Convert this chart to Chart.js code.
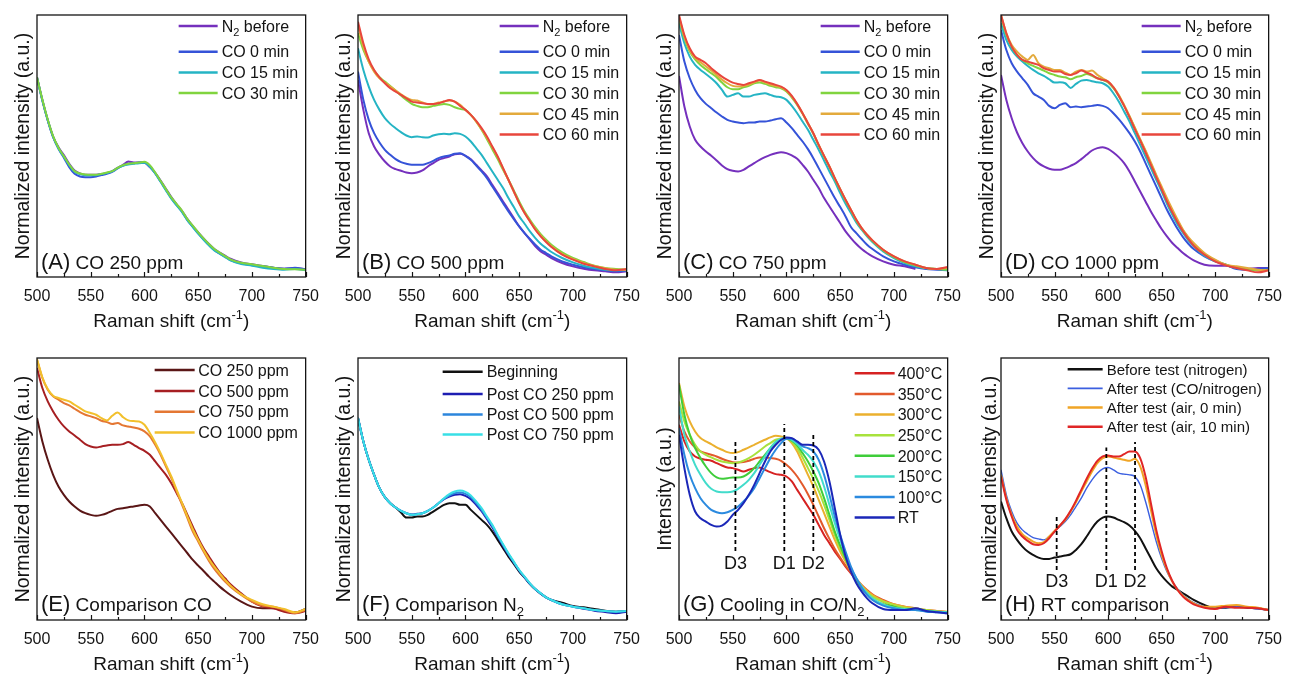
<!DOCTYPE html>
<html>
<head>
<meta charset="utf-8">
<script src="https://cdn.jsdelivr.net/npm/chart.js@4.4.1/dist/chart.umd.min.js"></script>
<style>
  html, body { margin: 0; padding: 0; background: #fff; }
  #wrap { position: relative; width: 1290px; height: 675px; overflow: hidden; background: #fff; }
  #wrap canvas { position: absolute; }
</style>
</head>
<body>
<div id="wrap"></div>
<script>
// Raman shift grid (cm-1) shared by all spectra
const ramanShift = [500, 505, 510, 515, 520, 525, 530, 535, 540, 545,
  550, 555, 560, 565, 570, 575, 580, 585, 590, 595,
  600, 605, 610, 615, 620, 625, 630, 635, 640, 645,
  650, 655, 660, 665, 670, 675, 680,
  690, 700, 710, 720, 730, 740, 750]
const xTickValues = [500, 550, 600, 650, 700, 750]

// intensities are in arbitrary units (no y ticks in the figure)
// (A) CO 250 ppm
const aN2Before = [600, 532, 472, 422, 390, 366, 340, 320, 311, 307,
  307, 307, 309, 312, 318, 328, 337, 347, 344, 344,
  343, 330, 312, 290, 265, 240, 218, 198, 174, 153,
  134, 116, 99, 84, 73, 64, 55,
  44, 38, 33, 28, 25, 26, 24]
const aCO0 = [600, 530, 470, 420, 385, 358, 330, 310, 302, 300,
  300, 302, 306, 310, 316, 326, 335, 340, 342, 344,
  345, 333, 312, 287, 262, 237, 216, 196, 171, 151,
  131, 113, 96, 81, 70, 61, 51,
  41, 36, 32, 28, 25, 28, 23]
const aCO15 = [598, 530, 471, 421, 386, 361, 336, 316, 309, 306,
  306, 306, 309, 312, 317, 327, 334, 338, 340, 342,
  343, 331, 311, 286, 260, 235, 215, 195, 170, 150,
  130, 112, 95, 80, 70, 60, 50,
  39, 34, 28, 24, 22, 24, 20]
const aCO30 = [600, 533, 473, 423, 388, 363, 338, 318, 311, 308,
  307, 307, 310, 314, 318, 328, 336, 340, 342, 344,
  346, 336, 314, 289, 264, 239, 219, 199, 174, 154,
  134, 116, 99, 84, 73, 63, 53,
  43, 38, 33, 28, 24, 23, 22]

// (B) CO 500 ppm
const bN2Before = [592, 502, 432, 392, 367, 347, 332, 324, 319, 314,
  312, 314, 320, 332, 342, 352, 357, 362, 369, 370,
  364, 354, 337, 320, 302, 277, 252, 227, 202, 177,
  152, 132, 112, 92, 77, 67, 57,
  42, 32, 25, 20, 17, 14, 17]
const bCO0 = [617, 532, 472, 432, 404, 382, 367, 354, 345, 340,
  337, 337, 337, 342, 349, 357, 362, 365, 370, 372,
  364, 352, 335, 317, 297, 272, 247, 222, 197, 174,
  152, 132, 114, 97, 82, 72, 62,
  47, 37, 29, 24, 20, 17, 20]
const bCO15 = [687, 622, 572, 532, 502, 477, 460, 447, 435, 425,
  420, 422, 420, 419, 425, 429, 430, 429, 432, 430,
  422, 407, 387, 367, 342, 317, 292, 267, 237, 210,
  182, 160, 137, 117, 100, 87, 75,
  57, 44, 34, 27, 22, 20, 20]
const bCO30 = [732, 682, 647, 620, 600, 587, 574, 560, 545, 532,
  520, 514, 510, 510, 514, 517, 520, 517, 510, 505,
  502, 487, 467, 442, 414, 384, 354, 322, 292, 260,
  227, 197, 172, 149, 129, 112, 97,
  74, 57, 45, 34, 27, 24, 22]
const bCO45 = [757, 692, 647, 617, 597, 584, 572, 560, 549, 539,
  532, 530, 524, 519, 520, 524, 527, 530, 527, 517,
  502, 487, 467, 444, 418, 390, 360, 326, 291, 256,
  222, 193, 168, 144, 124, 107, 92,
  69, 54, 42, 33, 26, 22, 22]
const bCO60 = [767, 702, 654, 622, 600, 582, 567, 557, 547, 537,
  527, 524, 522, 520, 520, 522, 527, 532, 527, 514,
  502, 487, 469, 447, 422, 392, 362, 327, 292, 257,
  222, 192, 167, 142, 122, 105, 90,
  67, 52, 40, 32, 24, 20, 24]

// (C) CO 750 ppm
const cN2Before = [604, 512, 452, 412, 392, 377, 364, 350, 335, 324,
  319, 317, 322, 332, 342, 352, 360, 367, 372, 375,
  372, 365, 355, 337, 317, 292, 267, 237, 212, 187,
  162, 137, 117, 99, 84, 72, 62,
  47, 37, 32, 24, null, null, null]
const cCO0 = [727, 647, 597, 562, 537, 520, 507, 494, 482, 472,
  467, 464, 462, 464, 464, 467, 467, 470, 474, 477,
  464, 447, 427, 407, 384, 357, 327, 297, 267, 237,
  210, 182, 150, 132, 114, 97, 84,
  62, 47, 37, 29, 24, 22, 20]
const cCO15 = [762, 702, 662, 637, 622, 610, 597, 582, 562, 542,
  547, 552, 542, 542, 547, 550, 552, 547, 542, 540,
  532, 514, 492, 467, 442, 412, 382, 350, 317, 287,
  252, 220, 192, 164, 142, 122, 105,
  77, 57, 42, 32, 26, 24, 20]
const cCO30 = [777, 717, 677, 654, 637, 624, 612, 600, 584, 570,
  564, 564, 570, 574, 582, 584, 580, 574, 570, 567,
  557, 539, 517, 490, 460, 430, 395, 362, 330, 295,
  262, 230, 200, 170, 145, 125, 108,
  80, 60, 45, 35, 27, 24, 22]
const cCO45 = [782, 722, 682, 658, 645, 633, 620, 607, 593, 582,
  574, 572, 574, 578, 585, 590, 585, 578, 574, 570,
  560, 542, 519, 492, 462, 432, 397, 364, 332, 297,
  264, 232, 202, 172, 147, 127, 110,
  82, 62, 47, 37, 27, 24, 28]
const cCO60 = [787, 727, 687, 662, 652, 642, 627, 614, 602, 592,
  584, 580, 577, 582, 587, 592, 587, 582, 577, 572,
  562, 544, 520, 492, 462, 432, 397, 364, 332, 297,
  264, 232, 202, 172, 147, 127, 110,
  82, 62, 47, 37, 27, 24, 30]

// (D) CO 1000 ppm
const dN2Before = [607, 532, 477, 434, 402, 377, 357, 342, 332, 325,
  322, 322, 327, 334, 342, 354, 367, 380, 387, 390,
  385, 374, 360, 342, 317, 287, 257, 227, 197, 170,
  144, 122, 102, 87, 72, 60, 50,
  37, 34, 34, 27, 24, 27, 27]
const dCO0 = [742, 682, 642, 617, 597, 577, 552, 542, 532, 514,
  507, 517, 522, 510, 512, 510, 512, 514, 517, 514,
  507, 492, 474, 454, 432, 407, 377, 342, 307, 272,
  237, 202, 172, 144, 120, 100, 84,
  62, 47, 37, 24, 22, 24, 27]
const dCO15 = [762, 712, 682, 662, 647, 634, 622, 612, 604, 594,
  584, 585, 582, 568, 580, 590, 592, 588, 585, 582,
  572, 552, 527, 497, 467, 432, 397, 362, 327, 292,
  257, 220, 187, 157, 132, 110, 92,
  64, 47, 37, 27, 24, 20, 22]
const dCO30 = [782, 727, 692, 667, 652, 642, 634, 627, 620, 612,
  607, 602, 600, 594, 600, 604, 610, 604, 597, 592,
  584, 567, 544, 514, 482, 447, 412, 377, 340, 304,
  267, 232, 197, 167, 140, 117, 97,
  70, 50, 37, 29, 24, 20, 20]
const dCO45 = [787, 732, 697, 677, 662, 652, 667, 642, 632, 627,
  622, 622, 614, 607, 617, 622, 617, 620, 607, 597,
  587, 570, 547, 517, 484, 449, 414, 380, 344, 307,
  272, 237, 204, 172, 142, 120, 102,
  72, 52, 37, 32, 27, 22, 20]
const dCO60 = [787, 732, 692, 667, 652, 647, 642, 637, 627, 622,
  617, 617, 610, 607, 612, 620, 614, 607, 597, 592,
  587, 570, 544, 514, 480, 444, 410, 374, 337, 300,
  264, 227, 194, 164, 137, 114, 94,
  67, 47, 35, 27, 20, 14, 20]

// (E) Comparison CO
const eCO250 = [605, 535, 480, 435, 400, 375, 355, 340, 328, 320,
  315, 312, 315, 320, 327, 333, 335, 338, 340, 343,
  345, 340, 320, 300, 280, 260, 240, 220, 200, 180,
  163, 147, 130, 115, 100, 87, 75,
  55, 40, 35, 35, 27, 23, 33]
const eCO500 = [755, 695, 655, 625, 600, 580, 565, 553, 540, 527,
  520, 517, 520, 523, 525, 525, 527, 533, 525, 515,
  507, 495, 475, 455, 435, 410, 380, 350, 315, 280,
  245, 215, 190, 165, 143, 125, 107,
  80, 55, 40, 35, 25, 20, 27]
const eCO750 = [780, 725, 690, 670, 660, 650, 643, 633, 623, 615,
  610, 605, 597, 593, 587, 590, 583, 580, 577, 573,
  565, 550, 525, 495, 460, 425, 385, 345, 305, 265,
  235, 205, 177, 153, 133, 115, 100,
  75, 55, 43, 40, 30, 20, 30]
const eCO1000 = [782, 727, 692, 672, 665, 660, 655, 645, 635, 625,
  620, 615, 605, 598, 612, 622, 608, 598, 596, 595,
  585, 560, 532, 500, 465, 430, 390, 350, 310, 272,
  240, 210, 183, 160, 140, 120, 103,
  77, 60, 47, 40, 33, 23, 33]

// (F) Comparison N2
const fBeginning = [605, 535, 480, 435, 395, 368, 350, 337, 322, 307,
  307, 310, 310, 315, 325, 335, 345, 350, 350, 345,
  345, 330, 315, 300, 285, 265, 240, 215, 190, 168,
  145, 127, 108, 92, 79, 68, 60,
  52, 42, 38, 33, 28, 25, 27]
const fPost250 = [605, 535, 480, 435, 395, 368, 350, 337, 327, 320,
  316, 318, 320, 327, 337, 350, 362, 370, 375, 377,
  372, 362, 345, 326, 302, 278, 250, 222, 196, 172,
  148, 128, 108, 92, 79, 68, 60,
  47, 40, 34, 28, 24, 20, 25]
const fPost500 = [605, 535, 480, 435, 395, 368, 350, 337, 327, 320,
  315, 317, 320, 327, 337, 350, 363, 373, 380, 382,
  378, 368, 350, 330, 306, 282, 253, 225, 198, 173,
  149, 129, 109, 93, 80, 68, 60,
  47, 40, 35, 30, 27, 25, 27]
const fPost750 = [605, 535, 480, 435, 395, 368, 350, 337, 327, 320,
  315, 317, 320, 327, 337, 350, 365, 377, 385, 388,
  384, 373, 355, 335, 310, 285, 255, 227, 200, 175,
  150, 130, 110, 93, 80, 68, 60,
  47, 40, 35, 30, 27, 25, 27]

// (G) Cooling in CO/N2
const g400 = [585, 535, 505, 490, 483, 480, 477, 470, 463, 457,
  455, 450, 445, 450, 455, 457, 450, 443, 437, 435,
  430, 415, 390, 365, 340, 315, 285, 255, 230, 205,
  183, 160, 140, 120, 100, 85, 73,
  55, 43, 37, 33, 27, 25, 23]
const g350 = [615, 565, 535, 517, 505, 500, 495, 490, 483, 477,
  473, 472, 473, 477, 483, 487, 487, 485, 483, 477,
  465, 450, 430, 405, 377, 345, 310, 275, 243, 213,
  187, 163, 143, 123, 105, 90, 77,
  60, 47, 40, 35, 30, 27, 23]
const g300 = [710, 640, 595, 565, 545, 535, 527, 517, 510, 503,
  500, 503, 510, 517, 525, 533, 540, 547, 552, 550,
  545, 530, 505, 470, 435, 400, 360, 320, 280, 240,
  205, 175, 147, 123, 103, 87, 75,
  57, 47, 40, 35, 30, 27, 25]
const g250 = [655, 595, 555, 525, 505, 495, 487, 480, 475, 472,
  470, 472, 477, 485, 495, 507, 520, 530, 540, 543,
  545, 535, 515, 487, 455, 423, 387, 345, 300, 255,
  215, 180, 150, 123, 100, 83, 70,
  55, 45, 37, 33, 30, 25, 23]
const g200 = [705, 615, 555, 515, 485, 460, 440, 427, 423, 425,
  427, 427, 430, 440, 455, 475, 495, 515, 533, 540,
  543, 537, 523, 500, 475, 445, 410, 365, 315, 265,
  223, 185, 150, 120, 95, 77, 63,
  47, 40, 33, 33, 27, 25, 23]
const g150 = [640, 555, 505, 465, 435, 410, 393, 385, 383, 383,
  385, 393, 405, 420, 440, 465, 490, 515, 533, 543,
  545, 540, 527, 510, 495, 475, 445, 400, 345, 290,
  240, 195, 155, 125, 100, 80, 65,
  47, 37, 33, 30, 27, 25, 23]
const g100 = [575, 495, 435, 395, 365, 345, 330, 323, 320, 323,
  330, 340, 355, 373, 395, 425, 455, 485, 510, 530,
  543, 543, 533, 520, 515, 505, 480, 435, 375, 310,
  255, 205, 160, 125, 97, 75, 60,
  43, 35, 30, 30, 25, 23, 20]
const gRT = [555, 455, 375, 325, 305, 295, 285, 280, 283, 295,
  315, 330, 350, 375, 405, 440, 475, 505, 525, 540,
  547, 545, 535, 525, 525, 523, 510, 475, 415, 335,
  255, 190, 145, 110, 85, 65, 50,
  33, 30, 30, 35, 27, 23, 20]

// (H) RT comparison
const hBefore = [355, 305, 265, 240, 220, 205, 195, 187, 183, 183,
  187, 190, 193, 197, 210, 227, 250, 275, 295, 307,
  310, 307, 300, 293, 283, 267, 245, 215, 185, 155,
  133, 115, 100, 90, 80, 70, 60,
  45, 35, 37, 40, 37, 35, 30]
const hAfterCO = [450, 375, 325, 290, 270, 257, 247, 243, 240, 250,
  265, 280, 295, 315, 340, 365, 395, 420, 440, 453,
  457, 450, 440, 437, 435, 430, 405, 355, 295, 235,
  185, 145, 115, 93, 75, 62, 52,
  40, 35, 37, 40, 37, 33, 30]
const hAfterAir0 = [435, 365, 315, 280, 257, 245, 235, 230, 233, 250,
  267, 283, 300, 325, 353, 385, 415, 445, 470, 485,
  490, 487, 483, 480, 477, 483, 460, 405, 330, 255,
  195, 150, 115, 90, 73, 60, 50,
  40, 40, 43, 45, 40, 37, 30]
const hAfterAir10 = [430, 360, 310, 270, 250, 237, 227, 225, 230, 245,
  265, 283, 302, 327, 357, 390, 423, 453, 477, 490,
  493, 490, 490, 497, 505, 505, 485, 430, 350, 270,
  207, 155, 117, 90, 70, 57, 47,
  37, 33, 40, 37, 37, 35, 30]

// D3 / D1 / D2 band markers
const markerNames = ['D3', 'D1', 'D2']
const gMarkerShift = [552.5, 598, 625]
const gMarkerTop = [540, 587, 560]
const gMarkerBottom = 207
const gMarkerLabelY = 172
const hMarkerShift = [552, 598.4, 625.2]
const hMarkerTop = [310, 517, 533]
const hMarkerBottom = 150
const hMarkerLabelY = 117

// legend names
const timeNames = ['N₂ before', 'CO 0 min', 'CO 15 min', 'CO 30 min', 'CO 45 min', 'CO 60 min']
const concNames = ['CO 250 ppm', 'CO 500 ppm', 'CO 750 ppm', 'CO 1000 ppm']
const postNames = ['Beginning', 'Post CO 250 ppm', 'Post CO 500 ppm', 'Post CO 750 ppm']
const tempNames = ['400°C', '350°C', '300°C', '250°C', '200°C', '150°C', '100°C', 'RT']
const rtNames = ['Before test (nitrogen)', 'After test (CO/nitrogen)', 'After test (air, 0 min)', 'After test (air, 10 min)']

const timeColors = ['#7530bd', '#3553d8', '#25b4c4', '#80d43e', '#e3aa3c', '#e8463c']
const concColors = ['#5a1616', '#a61f22', '#e47733', '#f2c02c']
const postColors = ['#111111', '#1d1db2', '#2c86dc', '#38dfe6']
const tempColors = ['#d62222', '#e25a2c', '#ebb02e', '#a8e23c', '#3fcd3a', '#42dccb', '#2b8adf', '#1b27b8']
const rtColors = ['#111111', '#3b5fe0', '#f0a526', '#e02626']

const FONT = '"Liberation Sans", Arial, Helvetica, sans-serif'
const INK = '#141414'
const Y_AXIS_W = 36
const X_AXIS_H = 60
const PAD_T = 15
const PAD_R = 18
const NORM_TITLE = 'Normalized intensity (a.u.)'

const LEG_TIME = { x0: -127, x1: -88, tx: -84, rows: [11, 36.7, 57.4, 78.1, 98.8, 119.5], size: 16 }

const panels = [
  { rect: [37, 15, 311, 277], yMax: 787, yTitle: NORM_TITLE, tag: '(A)', caption: ' CO 250 ppm', drop: 8,
    names: timeNames.slice(0, 4), colors: timeColors.slice(0, 4),
    values: [aN2Before, aCO0, aCO15, aCO30], legend: LEG_TIME },
  { rect: [358, 15, 632, 277], yMax: 787, yTitle: NORM_TITLE, tag: '(B)', caption: ' CO 500 ppm', drop: 8,
    names: timeNames, colors: timeColors,
    values: [bN2Before, bCO0, bCO15, bCO30, bCO45, bCO60], legend: LEG_TIME },
  { rect: [679, 15, 953, 277], yMax: 787, yTitle: NORM_TITLE, tag: '(C)', caption: ' CO 750 ppm', drop: 8,
    names: timeNames, colors: timeColors,
    values: [cN2Before, cCO0, cCO15, cCO30, cCO45, cCO60], legend: LEG_TIME },
  { rect: [1001, 15, 1274, 277], yMax: 787, yTitle: NORM_TITLE, tag: '(D)', caption: ' CO 1000 ppm', drop: 8,
    names: timeNames, colors: timeColors,
    values: [dN2Before, dCO0, dCO15, dCO30, dCO45, dCO60], legend: LEG_TIME },
  { rect: [37, 358, 311, 620], yMax: 785, yTitle: NORM_TITLE, tag: '(E)', caption: ' Comparison CO', drop: 9,
    names: concNames, colors: concColors,
    values: [eCO250, eCO500, eCO750, eCO1000],
    legend: { x0: -151, x1: -111, tx: -107.5, rows: [12, 33, 53.7, 74.4], size: 16 } },
  { rect: [358, 358, 632, 620], yMax: 785, yTitle: NORM_TITLE, tag: '(F)', caption: ' Comparison N₂', drop: 9,
    names: postNames, colors: postColors,
    values: [fBeginning, fPost250, fPost500, fPost750],
    legend: { x0: -184, x1: -144, tx: -140, rows: [13.7, 36, 56.4, 76.6], size: 16 } },
  { rect: [679, 358, 953, 620], yMax: 785, yTitle: 'Intensity (a.u.)', tag: '(G)', caption: ' Cooling in CO/N₂', drop: 9,
    names: tempNames, colors: tempColors,
    values: [g400, g350, g300, g250, g200, g150, g100, gRT],
    legend: { x0: -93, x1: -53, tx: -50, rows: [15.3, 36, 56.6, 77.2, 97.8, 118.4, 139, 159.6], size: 16 },
    markers: { shift: gMarkerShift, top: gMarkerTop, bottom: gMarkerBottom, labelY: gMarkerLabelY } },
  { rect: [1001, 358, 1274, 620], yMax: 785, yTitle: NORM_TITLE, tag: '(H)', caption: ' RT comparison', drop: 9,
    names: rtNames, colors: rtColors, widths: [2, 1.4, 2, 2],
    values: [hBefore, hAfterCO, hAfterAir0, hAfterAir10],
    legend: { x0: -201, x1: -166, tx: -162, rows: [11.3, 30.4, 49.6, 68.7], size: 15 },
    markers: { shift: hMarkerShift, top: hMarkerTop, bottom: hMarkerBottom, labelY: hMarkerLabelY }, yPad: 14 }
]

// split text into normal / subscript / superscript runs
function richParts (text) {
  const parts = []
  for (const ch of text) {
    let kind = 'n'
    let t = ch
    if (ch === '₂') { kind = 'sub'; t = '2' }
    else if (ch === '⁻') { kind = 'sup'; t = '-' }
    else if (ch === '¹') { kind = 'sup'; t = '1' }
    const last = parts[parts.length - 1]
    if (last && last.kind === kind) last.t += t
    else parts.push({ kind, t })
  }
  return parts
}

function drawRich (ctx, text, x, y, size, align) {
  const parts = richParts(text)
  const fontFor = k => (k === 'n' ? size : Math.round(size * 0.68)) + 'px ' + FONT
  let total = 0
  parts.forEach(p => { ctx.font = fontFor(p.kind); p.w = ctx.measureText(p.t).width; total += p.w })
  let cx = align === 'center' ? x - total / 2 : x
  ctx.textAlign = 'left'
  ctx.textBaseline = 'alphabetic'
  parts.forEach(p => {
    ctx.font = fontFor(p.kind)
    const dy = p.kind === 'sub' ? size * 0.24 : p.kind === 'sup' ? -size * 0.42 : 0
    ctx.fillText(p.t, cx, y + dy)
    cx += p.w
  })
  return cx
}

function makeDecor (panel) {
  return {
    id: 'decor',
    afterDraw (chart) {
      const { ctx, chartArea: area, scales } = chart
      const xs = scales.x
      const ys = scales.y
      ctx.save()
      ctx.fillStyle = INK
      ctx.strokeStyle = INK

      // frame
      ctx.lineWidth = 1.3
      ctx.strokeRect(area.left, area.top, area.right - area.left, area.bottom - area.top)

      // inward ticks on the bottom axis
      ctx.lineWidth = 1.2
      for (let v = 500; v <= 750; v += 25) {
        const px = Math.round(xs.getPixelForValue(v)) + 0.5
        const len = v % 50 === 0 ? 5 : 3
        ctx.beginPath()
        ctx.moveTo(px, area.bottom)
        ctx.lineTo(px, area.bottom - len)
        ctx.stroke()
      }

      // x axis title
      drawRich(ctx, 'Raman shift (cm⁻¹)', (area.left + area.right) / 2, area.bottom + 50, 19, 'center')

      // panel caption
      const base = area.bottom - panel.drop
      const cx = drawRich(ctx, panel.tag, area.left + 4, base, 22)
      drawRich(ctx, panel.caption, cx, base, 19)

      // legend
      const lg = panel.legend
      panel.names.forEach((name, i) => {
        const y = area.top + lg.rows[i]
        ctx.strokeStyle = panel.colors[i]
        ctx.lineWidth = panel.widths ? panel.widths[i] + 0.5 : 2.5
        ctx.beginPath()
        ctx.moveTo(area.right + lg.x0, y)
        ctx.lineTo(area.right + lg.x1, y)
        ctx.stroke()
        ctx.fillStyle = INK
        drawRich(ctx, name, area.right + lg.tx, y + lg.size * 0.36, lg.size)
      })

      // D band labels
      if (panel.markers) {
        const m = panel.markers
        const ly = ys.getPixelForValue(m.labelY) + 6.5
        markerNames.forEach((name, i) => {
          drawRich(ctx, name, xs.getPixelForValue(m.shift[i]), ly, 18, 'center')
        })
      }
      ctx.restore()
    }
  }
}

const wrap = document.getElementById('wrap')

function makeChart (panel) {
  const [l, t, r, b] = panel.rect
  const canvas = document.createElement('canvas')
  canvas.width = (r - l) + Y_AXIS_W + PAD_R
  canvas.height = (b - t) + PAD_T + X_AXIS_H
  canvas.style.left = (l - Y_AXIS_W) + 'px'
  canvas.style.top = (t - PAD_T) + 'px'
  wrap.appendChild(canvas)

  const n = panel.values.length
  const datasets = panel.values.map((vals, i) => ({
    label: panel.names[i],
    data: ramanShift.map((x, k) => ({ x, y: vals[k] })),
    borderColor: panel.colors[i],
    borderWidth: panel.widths ? panel.widths[i] : 2,
    pointRadius: 0,
    cubicInterpolationMode: 'monotone',
    spanGaps: false,
    order: n - i + 1
  }))

  if (panel.markers) {
    const m = panel.markers
    m.shift.forEach((x, i) => {
      datasets.push({
        label: markerNames[i],
        data: [{ x, y: m.bottom }, { x, y: m.top[i] }],
        borderColor: '#000',
        borderWidth: 1.8,
        borderDash: [4, 3],
        pointRadius: 0,
        order: 0
      })
    })
  }

  return new Chart(canvas, {
    type: 'line',
    data: { datasets },
    options: {
      responsive: false,
      devicePixelRatio: 1,
      animation: false,
      layout: { padding: { top: PAD_T, right: PAD_R, left: 0, bottom: 0 } },
      plugins: { legend: { display: false }, tooltip: { enabled: false } },
      scales: {
        x: {
          type: 'linear',
          min: 500,
          max: 750,
          afterFit: s => { s.height = X_AXIS_H },
          afterBuildTicks: s => { s.ticks = xTickValues.map(v => ({ value: v })) },
          grid: { display: false, drawTicks: false },
          border: { display: false },
          ticks: {
            padding: 10,
            color: INK,
            maxRotation: 0,
            autoSkip: false,
            font: { family: FONT, size: 16 },
            callback: v => String(v)
          }
        },
        y: {
          type: 'linear',
          min: 0,
          max: panel.yMax,
          afterFit: s => { s.width = Y_AXIS_W },
          grid: { display: false, drawTicks: false },
          border: { display: false },
          ticks: { display: false },
          title: {
            display: true,
            text: panel.yTitle,
            color: INK,
            font: { family: FONT, size: 19.5 },
            padding: { top: panel.yPad || 11, bottom: 0 }
          }
        }
      }
    },
    plugins: [makeDecor(panel)]
  })
}

panels.forEach(makeChart)
</script>
</body>
</html>
